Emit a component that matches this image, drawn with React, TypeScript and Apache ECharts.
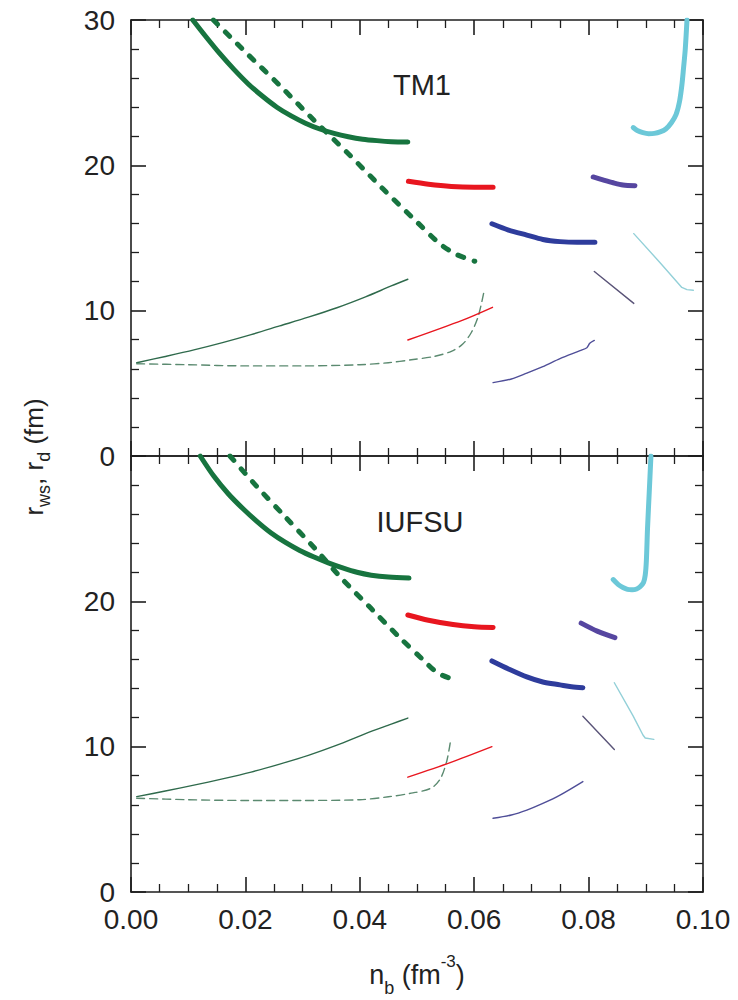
import React, { useEffect, useRef } from "react";
import * as echarts from "echarts";

// ---------- axis definitions ----------
const xMin = 0;
const xMax = 0.1;
const xInterval = 0.02;
const yMin = 0;
const yMax = 30;
const yInterval = 10;
const panelLabels = ["TM1", "IUFSU"];

// ---------- TM1 panel ----------
const tm1GreenRws = [[0.0108, 30], [0.013, 28.9], [0.0155, 27.7], [0.018, 26.6], [0.0205, 25.6], [0.023, 24.75], [0.0255, 24.0], [0.028, 23.4], [0.0305, 22.9], [0.033, 22.5], [0.0355, 22.2], [0.038, 21.97], [0.0405, 21.8], [0.043, 21.7], [0.0455, 21.63], [0.0484, 21.6]];
const tm1GreenRwsDash = [[0.0144, 30], [0.020, 27.8], [0.026, 25.5], [0.032, 23.1], [0.038, 20.8], [0.044, 18.4], [0.050, 16.1], [0.054, 14.6], [0.057, 13.85], [0.0601, 13.4]];
const tm1GreenRd = [[0.001, 6.42], [0.006, 6.85], [0.011, 7.3], [0.016, 7.8], [0.021, 8.35], [0.026, 8.95], [0.031, 9.55], [0.036, 10.2], [0.041, 10.95], [0.0455, 11.7], [0.0484, 12.16]];
const tm1GreenRdDash = [[0.001, 6.35], [0.01, 6.28], [0.02, 6.2], [0.03, 6.2], [0.04, 6.28], [0.045, 6.42], [0.049, 6.62], [0.053, 6.85], [0.056, 7.2], [0.058, 7.7], [0.0595, 8.5], [0.0607, 9.6], [0.0617, 11.3]];
const tm1RedRws = [[0.0485, 18.9], [0.052, 18.7], [0.056, 18.55], [0.060, 18.5], [0.0633, 18.5]];
const tm1RedRd = [[0.0484, 7.98], [0.058, 9.35], [0.0632, 10.23]];
const tm1BlueRws = [[0.0631, 15.98], [0.066, 15.55], [0.0692, 15.2], [0.072, 14.9], [0.075, 14.75], [0.078, 14.7], [0.0811, 14.7]];
const tm1BlueRd = [[0.0633, 5.05], [0.0665, 5.3], [0.0692, 5.7], [0.072, 6.15], [0.075, 6.7], [0.0785, 7.25], [0.0797, 7.45], [0.0802, 7.75], [0.081, 7.95]];
const tm1PurpleRws = [[0.0808, 19.2], [0.0825, 19.0], [0.0843, 18.8], [0.086, 18.65], [0.0881, 18.6]];
const tm1PurpleRd = [[0.081, 12.7], [0.0879, 10.5]];
const tm1CyanRws = [[0.0878, 22.6], [0.0885, 22.4], [0.0895, 22.25], [0.0905, 22.18], [0.0915, 22.2], [0.0925, 22.3], [0.0935, 22.5], [0.0945, 22.95], [0.0953, 23.5], [0.0959, 24.4], [0.0963, 25.5], [0.0966, 26.7], [0.0969, 28.0], [0.0972, 30]];
const tm1CyanRd = [[0.0879, 15.3], [0.0925, 13.3], [0.0963, 11.6], [0.0972, 11.45], [0.0983, 11.4]];

// ---------- IUFSU panel ----------
const iuGreenRws = [[0.0121, 30], [0.0145, 28.6], [0.017, 27.4], [0.0195, 26.4], [0.022, 25.5], [0.0245, 24.7], [0.027, 24.05], [0.0295, 23.5], [0.032, 23.05], [0.0345, 22.65], [0.037, 22.3], [0.0395, 22.0], [0.042, 21.8], [0.045, 21.67], [0.0486, 21.6]];
const iuGreenRwsDash = [[0.0173, 30], [0.022, 27.9], [0.027, 25.8], [0.032, 23.7], [0.037, 21.5], [0.042, 19.5], [0.047, 17.5], [0.051, 16.0], [0.0535, 15.1], [0.0558, 14.7]];
const iuGreenRd = [[0.001, 6.56], [0.006, 6.95], [0.011, 7.35], [0.016, 7.78], [0.021, 8.25], [0.026, 8.8], [0.031, 9.4], [0.036, 10.1], [0.041, 10.9], [0.0455, 11.55], [0.0484, 11.97]];
const iuGreenRdDash = [[0.001, 6.45], [0.01, 6.35], [0.02, 6.3], [0.03, 6.3], [0.04, 6.35], [0.045, 6.55], [0.049, 6.8], [0.0525, 7.15], [0.0541, 7.8], [0.0552, 9.0], [0.0558, 10.25]];
const iuRedRws = [[0.0484, 19.06], [0.052, 18.7], [0.0563, 18.4], [0.06, 18.25], [0.0633, 18.2]];
const iuRedRd = [[0.0484, 7.9], [0.0558, 8.9], [0.0631, 10.0]];
const iuBlueRws = [[0.0631, 15.9], [0.066, 15.35], [0.0692, 14.8], [0.072, 14.45], [0.075, 14.25], [0.077, 14.12], [0.079, 14.06]];
const iuBlueRd = [[0.0633, 5.07], [0.0665, 5.3], [0.0692, 5.64], [0.072, 6.1], [0.075, 6.67], [0.079, 7.6]];
const iuPurpleRws = [[0.0787, 18.5], [0.0815, 17.95], [0.0846, 17.5]];
const iuPurpleRd = [[0.079, 12.1], [0.0845, 9.8]];
const iuCyanRws = [[0.0843, 21.5], [0.0852, 21.15], [0.086, 20.95], [0.0868, 20.82], [0.0876, 20.8], [0.0884, 20.85], [0.089, 21.0], [0.0896, 21.3], [0.0899, 21.8], [0.0901, 22.8], [0.0903, 25.0], [0.0906, 27.5], [0.0909, 30]];
const iuCyanRd = [[0.0845, 14.4], [0.0878, 12.1], [0.0895, 10.8], [0.0899, 10.6], [0.0914, 10.5]];

const GREEN = "#17743f";
const GREEN_THIN = "#2f6a4c";
const GREEN_DASH_THIN = "#5b8a70";
const RED = "#e8161f";
const BLUE = "#2e3c9c";
const BLUE_THIN = "#4f4e98";
const PURPLE = "#5646a0";
const PURPLE_THIN = "#5a5478";
const CYAN = "#6cc8d8";
const CYAN_THIN = "#93d0d8";

const THICK_DASH = [6, 11];
const THIN_DASH = [8, 5];

type Curve = { data: number[][]; color: string; width: number; dash?: number[]; smooth?: number };

const tm1Curves: Curve[] = [
  { data: tm1GreenRws, color: GREEN, width: 5 },
  { data: tm1GreenRwsDash, color: GREEN, width: 5, dash: THICK_DASH },
  { data: tm1GreenRd, color: GREEN_THIN, width: 1.4 },
  { data: tm1GreenRdDash, color: GREEN_DASH_THIN, width: 1.4, dash: THIN_DASH },
  { data: tm1RedRws, color: RED, width: 5 },
  { data: tm1RedRd, color: RED, width: 1.4 },
  { data: tm1BlueRws, color: BLUE, width: 5 },
  { data: tm1BlueRd, color: BLUE_THIN, width: 1.4 },
  { data: tm1PurpleRws, color: PURPLE, width: 5 },
  { data: tm1PurpleRd, color: PURPLE_THIN, width: 1.4 },
  { data: tm1CyanRws, color: CYAN, width: 5 },
  { data: tm1CyanRd, color: CYAN_THIN, width: 1.4, smooth: 0 },
];

const iuCurves: Curve[] = [
  { data: iuGreenRws, color: GREEN, width: 5 },
  { data: iuGreenRwsDash, color: GREEN, width: 5, dash: THICK_DASH },
  { data: iuGreenRd, color: GREEN_THIN, width: 1.4 },
  { data: iuGreenRdDash, color: GREEN_DASH_THIN, width: 1.4, dash: THIN_DASH },
  { data: iuRedRws, color: RED, width: 5 },
  { data: iuRedRd, color: RED, width: 1.4 },
  { data: iuBlueRws, color: BLUE, width: 5 },
  { data: iuBlueRd, color: BLUE_THIN, width: 1.4 },
  { data: iuPurpleRws, color: PURPLE, width: 5 },
  { data: iuPurpleRd, color: PURPLE_THIN, width: 1.4 },
  { data: iuCyanRws, color: CYAN, width: 5 },
  { data: iuCyanRd, color: CYAN_THIN, width: 1.4, smooth: 0 },
];

const FONT = "'Liberation Sans', Arial, Helvetica, sans-serif";
const AX = "#1e1e1e";

function xAxisDef(gridIndex: number, position: "bottom" | "top", labels: boolean) {
  return {
    type: "value",
    gridIndex,
    position,
    min: xMin,
    max: xMax,
    interval: xInterval,
    axisLine: { show: true, onZero: false, lineStyle: { color: AX, width: 1.6 } },
    axisTick: { show: true, inside: true, length: 15, lineStyle: { color: AX, width: 1.6 } },
    minorTick: { show: true, splitNumber: 4, length: 8, lineStyle: { color: AX, width: 1.3 } },
    splitLine: { show: false },
    minorSplitLine: { show: false },
    axisLabel: {
      show: labels,
      fontSize: 28,
      fontFamily: FONT,
      color: "#222",
      margin: 13,
      formatter: (v: number) => v.toFixed(2),
    },
  };
}

function yAxisDef(gridIndex: number, position: "left" | "right", labels: boolean, hideTop: boolean) {
  return {
    type: "value",
    gridIndex,
    position,
    min: yMin,
    max: yMax,
    interval: yInterval,
    axisLine: { show: true, onZero: false, lineStyle: { color: AX, width: 1.6 } },
    axisTick: { show: true, inside: true, length: 15, lineStyle: { color: AX, width: 1.6 } },
    minorTick: { show: true, splitNumber: 5, length: 8, lineStyle: { color: AX, width: 1.3 } },
    splitLine: { show: false },
    minorSplitLine: { show: false },
    axisLabel: {
      show: labels,
      fontSize: 28,
      fontFamily: FONT,
      color: "#222",
      margin: 16,
      formatter: (v: number) => (hideTop && v === yMax ? "" : String(v)),
    },
  };
}

function buildSeries(curves: Curve[], axisIndex: number) {
  return curves.map((c) => ({
    type: "line",
    xAxisIndex: axisIndex,
    yAxisIndex: axisIndex,
    data: c.data,
    showSymbol: false,
    symbol: "none",
    smooth: c.smooth !== undefined ? c.smooth : 0.3,
    clip: true,
    lineStyle: {
      color: c.color,
      width: c.width,
      type: c.dash ? c.dash : "solid",
      cap: "round",
      join: "round",
    },
    emphasis: { disabled: true },
    silent: true,
  }));
}

export default function App() {
  const ref = useRef<HTMLDivElement>(null);

  useEffect(() => {
    if (!ref.current) return;
    const chart = echarts.init(ref.current, undefined, { renderer: "svg" });
    const option = {
      animation: false,
      backgroundColor: "#ffffff",
      grid: [
        { left: 131, top: 20, width: 572, height: 436 },
        { left: 131, top: 456, width: 572, height: 436 },
      ],
      xAxis: [
        xAxisDef(0, "bottom", false),
        xAxisDef(0, "top", false),
        xAxisDef(1, "bottom", true),
        xAxisDef(1, "top", false),
      ],
      yAxis: [
        yAxisDef(0, "left", true, false),
        yAxisDef(0, "right", false, false),
        yAxisDef(1, "left", true, true),
        yAxisDef(1, "right", false, false),
      ],
      series: [...buildSeries(tm1Curves, 0), ...buildSeries(iuCurves, 2)],
      graphic: [
        {
          type: "text",
          x: 422,
          y: 85,
          style: {
            text: panelLabels[0],
            fontSize: 29,
            fontFamily: FONT,
            fill: "#222",
            align: "center",
            verticalAlign: "middle",
            textAlign: "center",
            textVerticalAlign: "middle",
          },
        },
        {
          type: "text",
          x: 420,
          y: 522,
          style: {
            text: panelLabels[1],
            fontSize: 29,
            fontFamily: FONT,
            fill: "#222",
            align: "center",
            verticalAlign: "middle",
            textAlign: "center",
            textVerticalAlign: "middle",
          },
        },
        {
          type: "text",
          x: 417,
          y: 975,
          style: {
            text: "{n|n}{sub|b}{n| (fm}{sup|-3}{n|)}",
            fill: "#222",
            fontFamily: FONT,
            align: "center",
            verticalAlign: "middle",
            textAlign: "center",
            textVerticalAlign: "middle",
            rich: {
              n: { fontSize: 27, fontFamily: FONT, fill: "#222", lineHeight: 44, verticalAlign: "middle" },
              sub: { fontSize: 18, fontFamily: FONT, fill: "#222", lineHeight: 18, verticalAlign: "bottom" },
              sup: { fontSize: 17, fontFamily: FONT, fill: "#222", lineHeight: 30, verticalAlign: "top" },
            },
          },
        },
        {
          type: "text",
          x: 34,
          y: 457,
          rotation: Math.PI / 2,
          style: {
            text: "{n|r}{sub|ws}{n|, r}{sub|d}{n| (fm)}",
            fill: "#222",
            fontFamily: FONT,
            align: "center",
            verticalAlign: "middle",
            textAlign: "center",
            textVerticalAlign: "middle",
            rich: {
              n: { fontSize: 26, fontFamily: FONT, fill: "#222", lineHeight: 38, verticalAlign: "middle" },
              sub: { fontSize: 18, fontFamily: FONT, fill: "#222", lineHeight: 18, verticalAlign: "bottom" },
            },
          },
        },
      ],
    };
    chart.setOption(option as any);
    return () => chart.dispose();
  }, []);

  return (
    <div
      ref={ref}
      style={{ position: "absolute", left: 0, top: 0, width: 738, height: 1000, background: "#fff" }}
    />
  );
}
